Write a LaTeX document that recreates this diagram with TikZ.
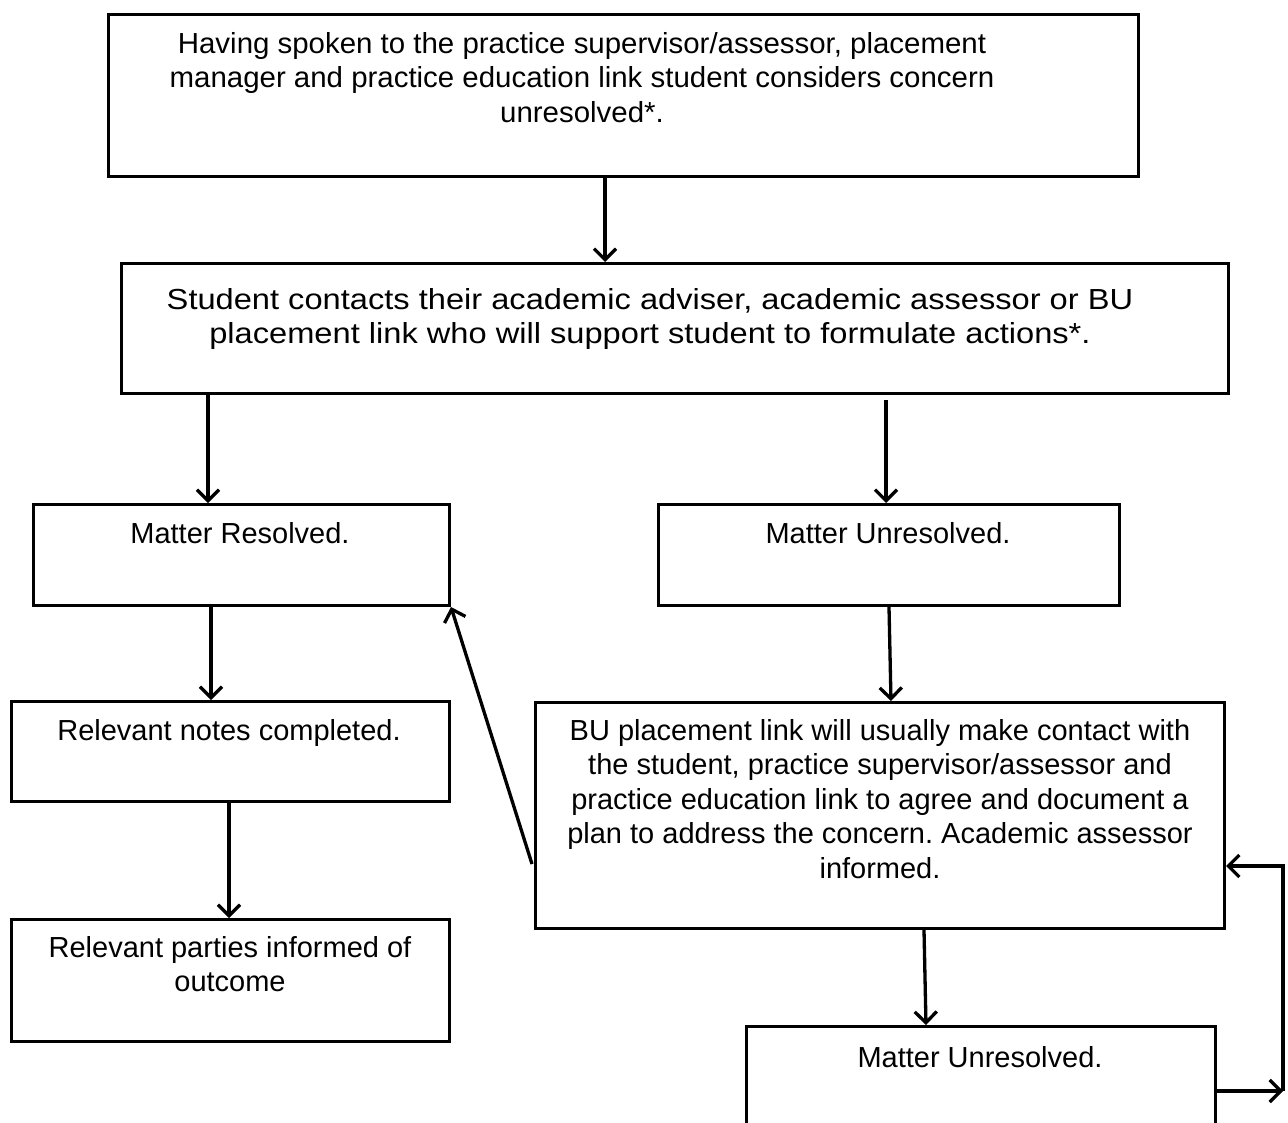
\documentclass[tikz,border=0pt]{standalone}
\usepackage{fontspec}
\setmainfont{Liberation Sans}
\newfontfamily\bonefont[FakeStretch=1.015]{Liberation Sans}
\newfontfamily\btwofont[FakeStretch=1.125]{Liberation Sans}
\usetikzlibrary{arrows.meta}
\tikzset{
  box/.style={draw, line width=3pt, inner sep=0pt, anchor=north west},
  txt/.style={inner sep=0pt, anchor=north, align=center,
    font=\fontsize{29}{34.5}\selectfont\frenchspacing},
  conn/.style={draw, line width=3.3pt, arrows={-Straight Barb[length=11pt,width=22pt,line width=3.3pt]}}
}
\begin{document}
\begin{tikzpicture}[x=1pt,y=1pt]
\useasboundingbox (0,0) rectangle (1288,-1122);
\begin{scope}
\clip (0,0) rectangle (1288,-1122);
% boxes
\node[box, minimum width=1030pt, minimum height=162pt] (b1) at (107,-13) {};
\node[box, minimum width=1107pt, minimum height=130pt] (b2) at (120,-262) {};
\node[box, minimum width=416pt, minimum height=101pt] (b3) at (32,-503) {};
\node[box, minimum width=461pt, minimum height=101pt] (b4) at (657,-503) {};
\node[box, minimum width=438pt, minimum height=100pt] (b5) at (10,-700) {};
\node[box, minimum width=438pt, minimum height=122pt] (b6) at (10,-918) {};
\node[box, minimum width=689pt, minimum height=226pt] (b7) at (534,-701) {};
\node[box, minimum width=469pt, minimum height=120pt] (b8) at (745,-1025) {};
\end{scope}
% texts
\node[txt, font=\fontsize{29}{34.5}\bonefont] (t1) at (582,-32) {Having spoken to the practice supervisor/assessor, placement\\manager and practice education link student considers concern\\unresolved*.};
\node[txt, font=\fontsize{29}{34.5}\btwofont] (t2) at (650,-288) {Student contacts their academic adviser, academic assessor or BU\\placement link who will support student to formulate actions*.};
\node[txt] (t3) at (240,-522) {Matter Resolved.};
\node[txt] (t4) at (888,-522) {Matter Unresolved.};
\node[txt] (t5) at (229,-719) {Relevant notes completed.};
\node[txt] (t6) at (230,-936) {Relevant parties informed of\\outcome};
\node[txt] (t7) at (880,-719) {BU placement link will usually make contact with\\the student, practice supervisor/assessor and\\practice education link to agree and document a\\plan to address the concern. Academic assessor\\informed.};
\node[txt] (t8) at (980,-1046) {Matter Unresolved.};
% connectors
\path[conn] (b1.south -| 605,0) -- (b2.north -| 605,0);
\path[conn] (208,-392) coordinate (s2) -- (s2 |- b3.north);
\path[conn] (886,-400) coordinate (s3) -- (s3 |- b4.north);
\path[conn] (b3.south -| 211,0) -- (b5.north -| 211,0);
\path[conn] (b5.south -| 229,0) -- (b6.north -| 229,0);
\path[conn] (b4.south -| 889,0) -- (b7.north -| 891,0);
\path[conn] (b7.south -| 924,0) -- (b8.north -| 926,0);
\coordinate (s8) at (532,-864);
\path[conn] (s8) -- (b3.south east);
\coordinate (c1) at (1283,-1091);
\path[conn] (b8.east |- c1) -- (c1);
\path[conn] (c1) |- (b7.east |- 0,-866);
\end{tikzpicture}
\end{document}
